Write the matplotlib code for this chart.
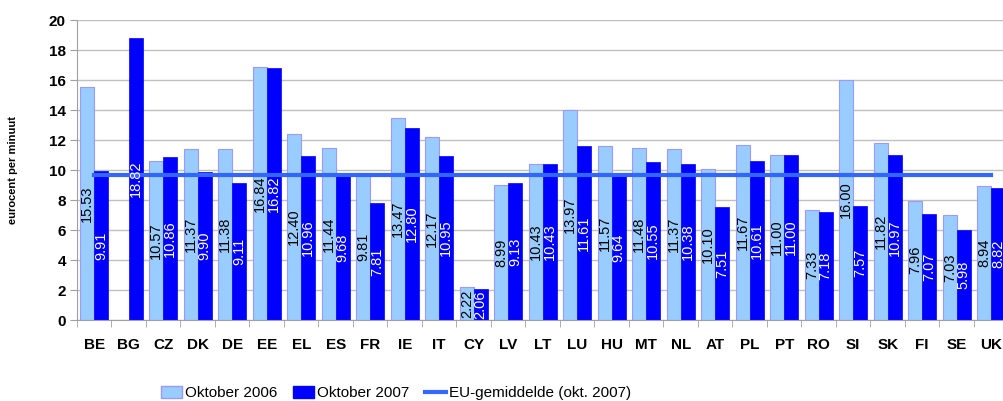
import matplotlib
matplotlib.use("Agg")
import matplotlib.pyplot as plt
import numpy as np
from matplotlib.lines import Line2D
from matplotlib.patches import Patch

countries = ["BE", "BG", "CZ", "DK", "DE", "EE", "EL", "ES", "FR", "IE", "IT", "CY", "LV", "LT",
             "LU", "HU", "MT", "NL", "AT", "PL", "PT", "RO", "SI", "SK", "FI", "SE", "UK"]
okt2006 = [15.53, None, 10.57, 11.37, 11.38, 16.84, 12.40, 11.44, 9.81, 13.47, 12.17, 2.22, 8.99, 10.43,
           13.97, 11.57, 11.48, 11.37, 10.10, 11.67, 11.00, 7.33, 16.00, 11.82, 7.96, 7.03, 8.94]
okt2007 = [9.91, 18.82, 10.86, 9.90, 9.11, 16.82, 10.96, 9.68, 7.81, 12.80, 10.95, 2.06, 9.13, 10.43,
           11.61, 9.64, 10.55, 10.38, 7.51, 10.61, 11.00, 7.18, 7.57, 10.97, 7.07, 5.98, 8.82]
eu_avg = 9.67
yticks = [0, 2, 4, 6, 8, 10, 12, 14, 16, 18, 20]

fig = plt.figure(figsize=(10.04, 4.01), dpi=100)
ax = fig.add_axes([77/1004, 1-320/401, 931.5/1004, 300/401])

x = np.arange(len(countries))
w = 0.405
light = "#99CCFF"
dark = "#0000FF"
fam = ["Liberation Sans", "DejaVu Sans"]

v06 = [np.nan if v is None else v for v in okt2006]
ax.bar(x - w/2, v06, w, color=light, edgecolor="#9999FF", linewidth=0.8, zorder=2)
ax.bar(x + w/2, okt2007, w, color=dark, edgecolor=dark, linewidth=0.5, zorder=2)

for i, v in enumerate(okt2006):
    if v is not None:
        ax.text(x[i] - w/2, v/2, f"{v:.2f}", rotation=90, ha="center", va="center",
                fontsize=10.5, color="black", family=fam, zorder=4)
for i, v in enumerate(okt2007):
    ax.text(x[i] + w/2, v/2, f"{v:.2f}", rotation=90, ha="center", va="center",
            fontsize=10.5, color="white", family=fam, zorder=4)

ax.plot([x[0], x[-1]], [eu_avg, eu_avg], color="#3366FF", linewidth=3, zorder=3)

ax.set_xlim(-0.5, len(countries) - 0.5)
ax.set_ylim(0, 20)
ax.set_yticks(yticks)
ax.set_yticklabels([str(t) for t in yticks], fontsize=11, fontweight="bold", family=fam)
ax.yaxis.grid(True, color="#C0C0C0", linewidth=1)
ax.set_axisbelow(True)
ax.set_xticks(x)
ax.set_xticklabels(countries, fontsize=11, fontweight="bold", family=fam)
ax.set_xticks(np.arange(len(countries) + 1) - 0.5, minor=True)
ax.tick_params(axis="x", which="major", length=0, pad=13)
ax.tick_params(axis="x", which="minor", length=5, color="#A0A0A0")
ax.tick_params(axis="y", length=5, color="#A0A0A0", pad=3)
for s in ["top", "right"]:
    ax.spines[s].set_visible(False)
ax.spines["left"].set_color("#A0A0A0")
ax.spines["bottom"].set_color("#A0A0A0")

ax.set_ylabel("eurocent per minuut", fontsize=8, fontweight="bold", family=fam, labelpad=22)

handles = [Patch(facecolor=light, edgecolor="#9999FF"),
           Patch(facecolor=dark, edgecolor=dark),
           Line2D([0], [0], color="#3366FF", linewidth=3)]
labels = ["Oktober 2006", "Oktober 2007", "EU-gemiddelde (okt. 2007)"]
fig.legend(handles, labels, loc="center", bbox_to_anchor=(396/1004, 1 - 393/401),
           ncol=3, frameon=False, prop={"family": fam, "size": 11},
           handlelength=1.4, handleheight=0.8, handletextpad=0.2, columnspacing=1.0)

fig.savefig("out.png", dpi=100)
